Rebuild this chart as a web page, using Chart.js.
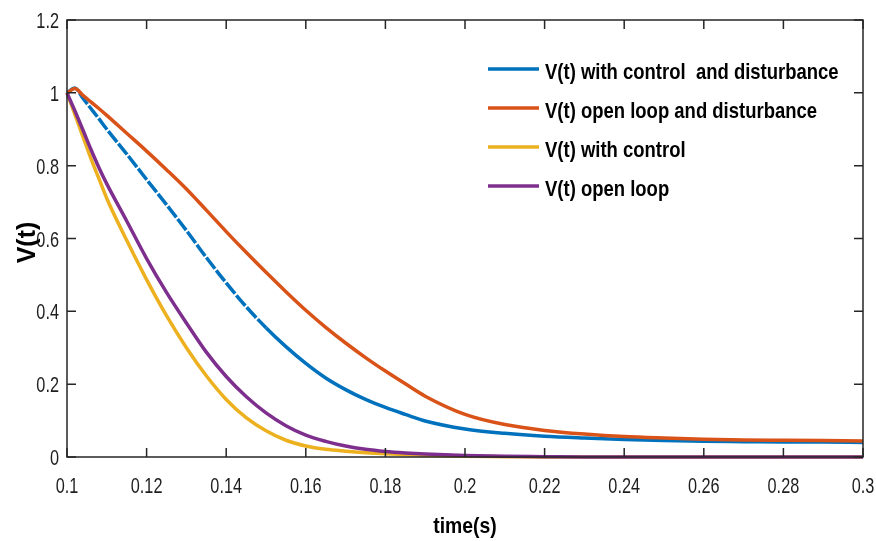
<!DOCTYPE html>
<html>
<head>
<meta charset="utf-8">
<script src="https://cdn.jsdelivr.net/npm/chart.js@4/dist/chart.umd.min.js"></script>
<style>
  html, body { margin: 0; padding: 0; background: #fff; }
  #wrap { width: 876px; height: 541px; }
</style>
</head>
<body>
<div id="wrap"><canvas id="myChart" width="876" height="541"></canvas></div>
<script>
var times = [0.1, 0.102, 0.104, 0.106, 0.108, 0.11, 0.115, 0.12, 0.125, 0.13, 0.135, 0.14, 0.145, 0.15, 0.155,
  0.16, 0.165, 0.17, 0.175, 0.18, 0.185, 0.19, 0.2, 0.21, 0.22, 0.23, 0.24, 0.25, 0.26, 0.27, 0.28, 0.29, 0.3];

var v_control_dist = [1.0, 1.013, 0.985, 0.957, 0.929, 0.9, 0.832, 0.762, 0.693, 0.622, 0.548, 0.478, 0.413, 0.355, 0.303,
  0.257, 0.217, 0.185, 0.158, 0.136, 0.117, 0.099, 0.077, 0.065, 0.057, 0.052, 0.048, 0.045, 0.043, 0.042, 0.041, 0.041, 0.040];
var v_open_dist = [1.0, 1.012, 0.993, 0.975, 0.957, 0.938, 0.889, 0.84, 0.789, 0.736, 0.678, 0.619, 0.562, 0.507, 0.454,
  0.403, 0.356, 0.313, 0.273, 0.236, 0.201, 0.167, 0.117, 0.089, 0.073, 0.063, 0.056, 0.052, 0.049, 0.047, 0.046, 0.045, 0.044];
var v_control = [1.0, 0.94, 0.88, 0.82, 0.765, 0.71, 0.595, 0.487, 0.388, 0.3, 0.223, 0.158, 0.108, 0.072, 0.046,
  0.03, 0.021, 0.016, 0.012, 0.009, 0.007, 0.005, 0.002, 0.001, 0, 0, 0, 0, 0, 0, 0, 0, 0];
var v_open = [1.0, 0.95, 0.898, 0.845, 0.795, 0.75, 0.648, 0.545, 0.452, 0.368, 0.288, 0.221, 0.166, 0.121, 0.086,
  0.06, 0.043, 0.03, 0.021, 0.015, 0.011, 0.008, 0.004, 0.002, 0.001, 0, 0, 0, 0, 0, 0, 0, 0];

var labels = ["V(t) with control  and disturbance", "V(t) open loop and disturbance", "V(t) with control", "V(t) open loop"];
var colors = ["#0072BD", "#D95319", "#EDB120", "#7E2F8E"];
var xTicks = [0.1, 0.12, 0.14, 0.16, 0.18, 0.2, 0.22, 0.24, 0.26, 0.28, 0.3];
var yTicks = [0, 0.2, 0.4, 0.6, 0.8, 1, 1.2];
var xTitle = 'time(s)';
var yTitle = 'V(t)';

var sans = "'Liberation Sans', Arial, sans-serif";
var axisColor = '#262626';

function pts(ys) {
  return times.map(function (t, i) { return { x: t, y: ys[i] }; });
}

function makeSet(i, ys) {
  return {
    label: labels[i],
    data: pts(ys),
    borderColor: colors[i],
    backgroundColor: colors[i],
    borderWidth: 3.5,
    pointRadius: 0,
    cubicInterpolationMode: 'monotone',
    clip: 5,
    order: 4 - i
  };
}

// text squeezed sideways, the reference uses a narrow face
function narrowText(ctx, text, x, y, sx, align) {
  ctx.save();
  ctx.translate(x, y);
  ctx.scale(sx, 1);
  ctx.textAlign = align;
  ctx.fillText(text, 0, 0);
  ctx.restore();
}

function fmt(v) { return String(+v.toFixed(2)); }

// box, inward ticks, tick labels, titles and the legend, MATLAB style
var matlabBox = {
  id: 'matlabBox',
  afterDraw: function (chart) {
    var ctx = chart.ctx, a = chart.chartArea;
    var xs = chart.scales.x, ys = chart.scales.y;
    var tl = 9;
    ctx.save();
    ctx.strokeStyle = axisColor;
    ctx.lineWidth = 1.5;
    ctx.strokeRect(a.left, a.top, a.right - a.left, a.bottom - a.top);
    ctx.beginPath();
    xTicks.forEach(function (v) {
      var px = xs.getPixelForValue(v);
      ctx.moveTo(px, a.bottom); ctx.lineTo(px, a.bottom - tl);
      ctx.moveTo(px, a.top); ctx.lineTo(px, a.top + tl);
    });
    yTicks.forEach(function (v) {
      var py = ys.getPixelForValue(v);
      ctx.moveTo(a.left, py); ctx.lineTo(a.left + tl, py);
      ctx.moveTo(a.right, py); ctx.lineTo(a.right - tl, py);
    });
    ctx.stroke();

    // tick labels
    ctx.fillStyle = '#1e1e1e';
    ctx.font = "22px " + sans;
    ctx.textBaseline = 'alphabetic';
    xTicks.forEach(function (v) {
      narrowText(ctx, fmt(v), xs.getPixelForValue(v), a.bottom + 36, 0.74, 'center');
    });
    yTicks.forEach(function (v) {
      narrowText(ctx, fmt(v), a.left - 8, ys.getPixelForValue(v) + 8, 0.74, 'right');
    });

    // axis titles
    ctx.fillStyle = '#000';
    ctx.font = "bold 22px " + sans;
    narrowText(ctx, xTitle, (a.left + a.right) / 2, 533, 0.88, 'center');
    ctx.save();
    ctx.font = "bold 25px " + sans;
    ctx.translate(35, (a.top + a.bottom) / 2 + 4);
    ctx.rotate(-Math.PI / 2);
    ctx.textAlign = 'center';
    ctx.fillText(yTitle, 0, 0);
    ctx.restore();

    // legend
    var lx = 488, tx = 545, y0 = 69, dy = 39;
    chart.data.datasets.forEach(function (ds, i) {
      var y = y0 + i * dy;
      ctx.strokeStyle = ds.borderColor;
      ctx.lineWidth = 3.5;
      ctx.beginPath();
      ctx.moveTo(lx, y); ctx.lineTo(lx + 51, y);
      ctx.stroke();
      ctx.fillStyle = '#000';
      ctx.font = "bold 22px " + sans;
      narrowText(ctx, ds.label, tx, y + 10, 0.84, 'left');
    });
    ctx.restore();
  }
};

var blueSet = makeSet(0, v_control_dist);
// MATLAB left small white breaks along the early part of this trace
blueSet.segment = {
  borderDash: function (c) { return c.p0.parsed.x < 0.15 ? [14, 2] : undefined; }
};

var config = {
  type: 'line',
  data: {
    datasets: [
      blueSet,
      makeSet(1, v_open_dist),
      makeSet(2, v_control),
      makeSet(3, v_open)
    ]
  },
  options: {
    responsive: false,
    animation: false,
    layout: { padding: { top: 20, right: 13, left: 0, bottom: 0 } },
    plugins: { legend: { display: false }, tooltip: { enabled: false } },
    scales: {
      x: {
        type: 'linear',
        min: 0.1,
        max: 0.3,
        grid: { display: false, drawTicks: false },
        border: { display: false },
        ticks: { display: false },
        afterFit: function (s) { s.height = 84; }
      },
      y: {
        min: 0,
        max: 1.2,
        grid: { display: false, drawTicks: false },
        border: { display: false },
        ticks: { display: false },
        afterFit: function (s) { s.width = 67; }
      }
    }
  },
  plugins: [matlabBox]
};

var ctx = document.getElementById('myChart').getContext('2d');
var myChart = new Chart(ctx, config);
</script>
</body>
</html>
